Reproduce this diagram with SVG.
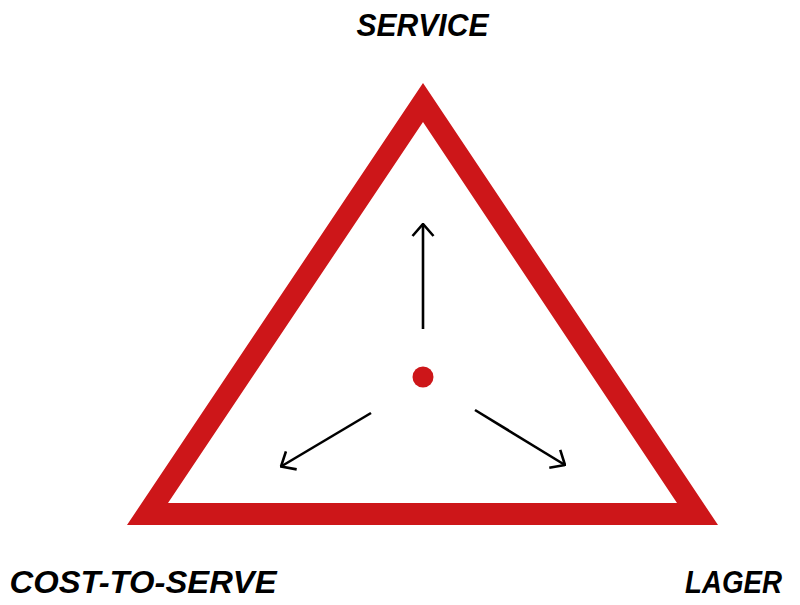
<svg xmlns="http://www.w3.org/2000/svg" width="800" height="605" viewBox="0 0 800 605">
<style>
.lbl{font-family:"Liberation Sans",Arial,sans-serif;font-weight:bold;font-style:italic;font-size:31px;fill:#000}
.arr{stroke:#000;stroke-width:2.6;fill:none;stroke-linecap:butt}
</style>
<defs>
<marker id="ah" viewBox="0 0 14 24" refX="13" refY="12" markerWidth="14" markerHeight="24" markerUnits="userSpaceOnUse" orient="auto">
<path d="M1,1.5 L13,12 L1,22.5" fill="none" stroke="#000" stroke-width="2.6"/>
</marker>
</defs>
<rect width="800" height="605" fill="#fff"/>
<g id="triangle">
<path d="M423,83 L127,525 L718,525 Z M423,122 L677,503 L168,503 Z" fill="#CD1619" fill-rule="evenodd"/>
</g>
<g id="center">
<circle cx="423" cy="377" r="10.5" fill="#CD1619"/>
</g>
<g id="connectors">
<line class="arr" x1="423" y1="329" x2="423" y2="224" marker-end="url(#ah)"/>
<line class="arr" x1="371" y1="413" x2="281" y2="466.5" marker-end="url(#ah)"/>
<line class="arr" x1="475" y1="410" x2="565" y2="465" marker-end="url(#ah)"/>
</g>
<g id="service"><text class="lbl" x="422.5" y="36" text-anchor="middle" textLength="132" lengthAdjust="spacingAndGlyphs">SERVICE</text></g>
<g id="cost-to-serve"><text class="lbl" x="9.5" y="593" textLength="267" lengthAdjust="spacingAndGlyphs">COST-TO-SERVE</text></g>
<g id="lager"><text class="lbl" x="685" y="593" textLength="97" lengthAdjust="spacingAndGlyphs">LAGER</text></g>
</svg>
